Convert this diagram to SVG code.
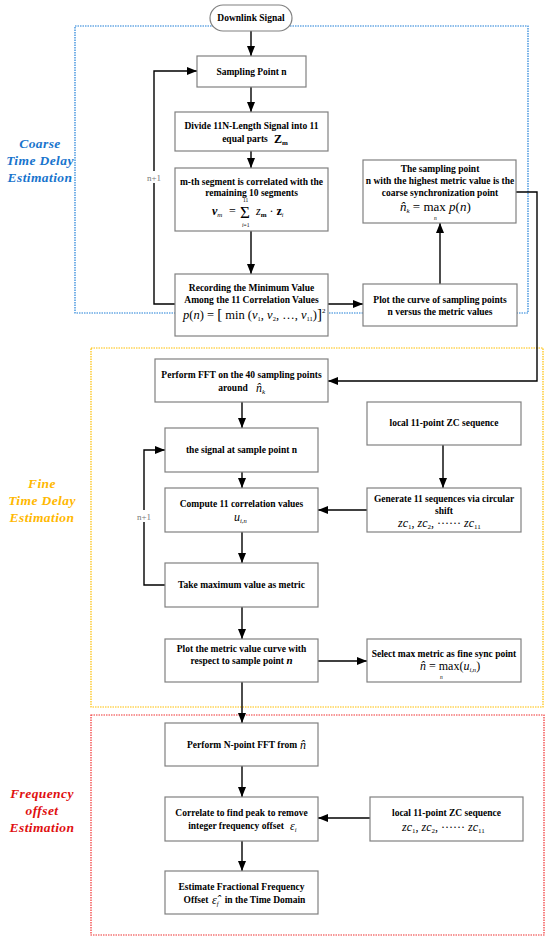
<svg xmlns="http://www.w3.org/2000/svg" width="550" height="941" viewBox="0 0 550 941">
<style>
.box{fill:#fff;stroke:#808080;stroke-width:1.2}
.t{font-family:"Liberation Serif","Times New Roman",Times,serif;font-weight:bold;font-size:9.5px;fill:#000;text-anchor:middle}
.ts{font-family:"Liberation Serif","Times New Roman",Times,serif;font-weight:bold;font-size:9.5px;fill:#000;text-anchor:start}
.m{font-family:"Liberation Serif","Times New Roman",Times,serif;fill:#000}
.i{font-style:italic}
.c{stroke:#000;stroke-width:1.4;fill:none}
.lbl{font-family:"Liberation Serif","Times New Roman",Times,serif;font-size:9px;fill:#777;text-anchor:middle}
.sec{font-family:"Liberation Serif","Times New Roman",Times,serif;font-weight:bold;font-style:italic;font-size:13.5px;text-anchor:middle;letter-spacing:0.4px}
</style>
<defs>
<marker id="ah" markerUnits="userSpaceOnUse" markerWidth="10" markerHeight="8" refX="10" refY="4" orient="auto">
<path d="M0,0 L10,4 L0,8 z" fill="#000"/>
</marker>
</defs>

<g id="regions">
<rect x="75" y="26" width="453" height="287" fill="none" stroke="#1E7FD8" stroke-width="1.2" stroke-dasharray="1.5,1"/>
<rect x="91" y="348" width="452" height="359" fill="none" stroke="#FFC000" stroke-width="1.2" stroke-dasharray="1.5,1"/>
<rect x="91" y="715" width="453" height="220" fill="none" stroke="#F03030" stroke-width="1.2" stroke-dasharray="1.5,1"/>
<text class="sec" fill="#1874CD" x="40" y="148">Coarse</text>
<text class="sec" fill="#1874CD" x="40" y="165">Time Delay</text>
<text class="sec" fill="#1874CD" x="40" y="182">Estimation</text>
<text class="sec" fill="#FFB800" x="42" y="488">Fine</text>
<text class="sec" fill="#FFB800" x="42" y="505">Time Delay</text>
<text class="sec" fill="#FFB800" x="42" y="522">Estimation</text>
<text class="sec" fill="#E01010" x="42" y="798">Frequency</text>
<text class="sec" fill="#E01010" x="42" y="815">offset</text>
<text class="sec" fill="#E01010" x="42" y="832">Estimation</text>
</g>

<g id="connectors">
<line class="c" x1="251" y1="31" x2="251" y2="56" marker-end="url(#ah)"/>
<line class="c" x1="251" y1="87" x2="251" y2="112" marker-end="url(#ah)"/>
<line class="c" x1="251" y1="151" x2="251" y2="168" marker-end="url(#ah)"/>
<line class="c" x1="251" y1="231" x2="251" y2="274" marker-end="url(#ah)"/>
<polyline class="c" points="175,304 154,304 154,71 197,71" marker-end="url(#ah)"/>
<line class="c" x1="328" y1="304" x2="363" y2="304" marker-end="url(#ah)"/>
<line class="c" x1="440" y1="284" x2="440" y2="223" marker-end="url(#ah)"/>
<polyline class="c" points="516,192 537,192 537,381 328,381" marker-end="url(#ah)"/>
<line class="c" x1="242" y1="402" x2="242" y2="428" marker-end="url(#ah)"/>
<line class="c" x1="242" y1="472" x2="242" y2="488" marker-end="url(#ah)"/>
<line class="c" x1="443" y1="445" x2="443" y2="488" marker-end="url(#ah)"/>
<line class="c" x1="367" y1="510" x2="318" y2="510" marker-end="url(#ah)"/>
<line class="c" x1="242" y1="532" x2="242" y2="563" marker-end="url(#ah)"/>
<polyline class="c" points="165,585 144,585 144,450 165,450" marker-end="url(#ah)"/>
<line class="c" x1="242" y1="607" x2="242" y2="639" marker-end="url(#ah)"/>
<line class="c" x1="318" y1="661" x2="367" y2="661" marker-end="url(#ah)"/>
<line class="c" x1="242" y1="682" x2="242" y2="723" marker-end="url(#ah)"/>
<line class="c" x1="242" y1="766" x2="242" y2="797" marker-end="url(#ah)"/>
<line class="c" x1="370" y1="818" x2="318" y2="818" marker-end="url(#ah)"/>
<line class="c" x1="242" y1="841" x2="242" y2="871" marker-end="url(#ah)"/>
<rect x="147" y="171" width="14" height="12" fill="#fff"/>
<text class="lbl" x="154" y="181">n+1</text>
<rect x="137" y="510" width="14" height="12" fill="#fff"/>
<text class="lbl" x="144" y="520">n+1</text>
</g>

<g id="downlink">
<rect class="box" x="210" y="5" width="82" height="26" rx="13" ry="13"/>
<text class="t" x="251" y="21">Downlink Signal</text>
</g>

<g id="sampling">
<rect class="box" x="197" y="56" width="109" height="31"/>
<text class="t" x="251.5" y="75">Sampling Point n</text>
</g>

<g id="divide">
<rect class="box" x="175" y="112" width="153" height="39"/>
<text class="t" x="251.5" y="129">Divide 11N-Length Signal into 11</text>
<text class="t" x="245" y="142">equal parts</text>
<text class="m" x="274" y="143" font-size="12" font-weight="bold">Z<tspan font-size="7" dy="2">m</tspan></text>
</g>

<g id="correlate-seg">
<rect class="box" x="175" y="168" width="153" height="63"/>
<text class="t" x="251.5" y="185">m-th segment is correlated with the</text>
<text class="t" x="251.5" y="196">remaining 10 segments</text>
<text class="m" x="212" y="215" font-size="12"><tspan class="i" font-weight="bold">v</tspan><tspan class="i" font-size="7" dy="2">m</tspan></text>
<text class="m" x="229" y="215" font-size="12">=</text>
<text class="m" x="240" y="218" font-size="17">Σ</text>
<text class="m" x="243" y="202" font-size="5.5">11</text>
<text class="m" x="242" y="227" font-size="5.5"><tspan class="i">i</tspan>=1</text>
<text class="m" x="256" y="215" font-size="12"><tspan class="i">z</tspan><tspan font-size="7" dy="2" font-weight="bold">m</tspan><tspan dy="-2"> · </tspan><tspan font-weight="bold">z</tspan><tspan class="i" font-size="6" dy="2">i</tspan></text>
</g>

<g id="recording">
<rect class="box" x="175" y="274" width="153" height="62"/>
<text class="t" x="251.5" y="291">Recording the Minimum Value</text>
<text class="t" x="251.5" y="303">Among the 11 Correlation Values</text>
<text class="m" x="183" y="319" font-size="12.5"><tspan class="i">p</tspan>(<tspan class="i">n</tspan>) = <tspan font-size="15">[</tspan> min (<tspan class="i">v</tspan><tspan font-size="6.5" dy="2">1</tspan><tspan dy="-2">, </tspan><tspan class="i">v</tspan><tspan font-size="6.5" dy="2">2</tspan><tspan dy="-2">, …, </tspan><tspan class="i">v</tspan><tspan font-size="6.5" dy="2">11</tspan><tspan dy="-2">)</tspan><tspan font-size="15">]</tspan><tspan font-size="7" dy="-6">2</tspan></text>
</g>

<g id="coarse-point">
<rect class="box" x="363" y="160" width="153" height="63"/>
<text class="t" x="440" y="172">The sampling point</text>
<text class="t" x="440" y="184">n with the highest metric value is the</text>
<text class="t" x="440" y="196">coarse synchronization point</text>
<text class="m" x="400" y="211" font-size="13"><tspan class="i">n̂</tspan><tspan class="i" font-size="7" dy="2">k</tspan><tspan dy="-2"> = max </tspan><tspan class="i">p</tspan>(<tspan class="i">n</tspan>)</text>
<text class="m i" x="434" y="220" font-size="5.5">n</text>
</g>

<g id="plot-curve">
<rect class="box" x="363" y="284" width="154" height="42"/>
<text class="t" x="440" y="303">Plot the curve of sampling points</text>
<text class="t" x="440" y="315">n versus the metric values</text>
</g>

<g id="fft40">
<rect class="box" x="155" y="359" width="173" height="43"/>
<text class="t" x="241.5" y="378">Perform FFT on the 40 sampling points</text>
<text class="t" x="233" y="391">around</text>
<text class="m i" x="256" y="392" font-size="12">n̂<tspan font-size="7" dy="2">k</tspan></text>
</g>

<g id="signal-n">
<rect class="box" x="165" y="428" width="153" height="44"/>
<text class="t" x="241.5" y="453">the signal at sample point n</text>
</g>

<g id="local-zc1">
<rect class="box" x="367" y="402" width="154" height="43"/>
<text class="t" x="444" y="426">local 11-point ZC sequence</text>
</g>

<g id="compute">
<rect class="box" x="165" y="488" width="153" height="44"/>
<text class="t" x="241.5" y="507">Compute 11 correlation values</text>
<text class="m i" x="234" y="521" font-size="12">u<tspan font-size="6.5" dy="2">i,n</tspan></text>
</g>

<g id="generate">
<rect class="box" x="367" y="488" width="154" height="44"/>
<text class="t" x="444" y="502">Generate 11 sequences via circular</text>
<text class="t" x="444" y="514">shift</text>
<text class="m i" x="398" y="527" font-size="12">zc<tspan font-size="7" dy="2" font-style="normal">1</tspan><tspan dy="-2" font-style="normal">, </tspan>zc<tspan font-size="7" dy="2" font-style="normal">2</tspan><tspan dy="-2" font-style="normal">, ······ </tspan>zc<tspan font-size="7" dy="2" font-style="normal">11</tspan></text>
</g>

<g id="take-max">
<rect class="box" x="165" y="563" width="153" height="44"/>
<text class="t" x="241.5" y="588">Take maximum value as metric</text>
</g>

<g id="plot-metric">
<rect class="box" x="165" y="639" width="153" height="43"/>
<text class="t" x="241.5" y="652">Plot the metric value curve with</text>
<text class="t" x="241.5" y="664">respect to sample point <tspan font-style="italic" font-size="11">n</tspan></text>
</g>

<g id="select-max">
<rect class="box" x="367" y="639" width="154" height="43"/>
<text class="t" x="444" y="657">Select max metric as fine sync point</text>
<text class="m" x="420" y="670" font-size="12"><tspan class="i">n̂</tspan> = max(<tspan class="i">u</tspan><tspan class="i" font-size="6.5" dy="2">i,n</tspan><tspan dy="-2">)</tspan></text>
<text class="m i" x="440" y="679" font-size="5.5">n</text>
</g>

<g id="fftN">
<rect class="box" x="165" y="723" width="153" height="43"/>
<text class="ts" x="187" y="748">Perform N-point FFT from</text>
<text class="m i" x="300" y="749" font-size="12">n̂</text>
</g>

<g id="correlate-peak">
<rect class="box" x="165" y="797" width="153" height="44"/>
<text class="t" x="241.5" y="816">Correlate to find peak to remove</text>
<text class="t" x="236" y="829">integer frequency offset</text>
<text class="m i" x="290" y="830" font-size="12">ε<tspan font-size="6.5" dy="2">i</tspan></text>
</g>

<g id="local-zc2">
<rect class="box" x="370" y="797" width="153" height="44"/>
<text class="t" x="446.5" y="816">local 11-point ZC sequence</text>
<text class="m i" x="402" y="831" font-size="12">zc<tspan font-size="7" dy="2" font-style="normal">1</tspan><tspan dy="-2" font-style="normal">, </tspan>zc<tspan font-size="7" dy="2" font-style="normal">2</tspan><tspan dy="-2" font-style="normal">, ······ </tspan>zc<tspan font-size="7" dy="2" font-style="normal">11</tspan></text>
</g>

<g id="estimate">
<rect class="box" x="165" y="871" width="153" height="43"/>
<text class="t" x="241.5" y="890">Estimate Fractional Frequency</text>
<text class="t" x="196" y="903">Offset</text>
<text class="m i" x="212" y="904" font-size="12">ε̂<tspan font-size="6.5" dy="2">f</tspan></text>
<text class="t" x="265" y="903">in the Time Domain</text>
</g>
</svg>
